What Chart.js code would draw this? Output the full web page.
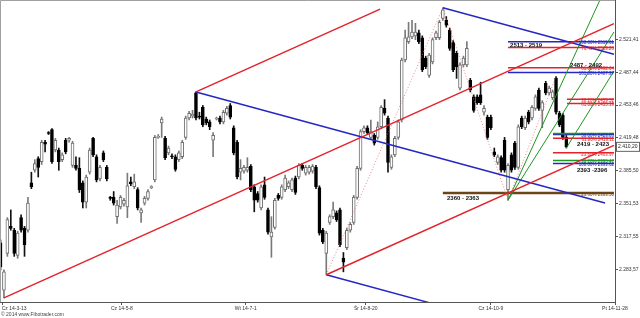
<!DOCTYPE html>
<html>
<head>
<meta charset="utf-8">
<script src="https://cdn.jsdelivr.net/npm/chart.js@4.4.1/dist/chart.umd.min.js"></script>
<style>
  html, body { margin: 0; padding: 0; background: #fff; }
</style>
</head>
<body>
<canvas id="chart" width="640" height="318"></canvas>
<script>
// daily candles (index = session number)
const opens = [2311,2262,2300,2328,2324,2298,2337,2326,2324,2373,2386,2398,2395,2415,2425,2428,2407,2407,2397,2417,
  2417,2391,2391,2388,2373,2353,2384,2419,2400,2377,2404,2389,2358,2358,2338,2348,2351,2348,2374,2369,
  2366,2342,2352,2357,2368,2376,2420,2435,2419,2404,2401,2400,2397,2400,2420,2440,2442,2466,2442,2451,
  2439,2436,2417,2439,2440,2436,2445,2453,2430,2415,2384,2385,2386,2390,2369,2362,2347,2371,2345,2317,
  2327,2360,2358,2366,2369,2366,2378,2379,2391,2383,2384,2385,2389,2368,2324,2300,2332,2338,2342,2345,
  2295,2306,2324,2332,2358,2388,2426,2430,2420,2422,2420,2431,2450,2440,2389,2402,2420,2438,2500,2519,
  2524,2525,2528,2523,2502,2484,2498,2523,2523,2543,2541,2531,2518,2507,2471,2495,2495,2479,2462,2462,
  2464,2446,2441,2441,2405,2394,2399,2417,2366,2402,2414,2389,2440,2430,2446,2440,2450,2469,2448,2476,
  2466,2461,2481,2445,2443,2420];
const highs = [2314,2283,2337,2345,2326,2323,2340,2328,2358,2384,2397,2400,2417,2417,2426,2429,2419,2409,2404,2419,
  2420,2416,2400,2399,2375,2381,2409,2420,2402,2391,2406,2391,2359,2364,2355,2360,2357,2383,2379,2382,
  2368,2347,2359,2366,2370,2422,2423,2441,2421,2411,2403,2402,2406,2417,2442,2447,2448,2467,2446,2453,
  2441,2438,2425,2441,2442,2448,2452,2455,2432,2417,2397,2391,2399,2392,2371,2364,2371,2379,2347,2338,
  2357,2362,2371,2381,2375,2378,2380,2393,2393,2391,2391,2392,2391,2370,2326,2323,2340,2353,2344,2347,
  2301,2326,2332,2360,2390,2428,2432,2432,2438,2424,2436,2453,2459,2442,2402,2421,2438,2502,2531,2539,
  2541,2538,2531,2525,2504,2507,2523,2530,2541,2554,2545,2533,2520,2509,2497,2504,2519,2481,2464,2464,
  2477,2453,2443,2443,2409,2402,2401,2420,2393,2404,2416,2433,2442,2442,2448,2453,2464,2471,2458,2478,
  2473,2469,2483,2447,2445,2422];
const lows = [2283,2254,2297,2324,2297,2295,2322,2297,2322,2367,2384,2379,2392,2405,2423,2393,2405,2386,2395,2403,
  2415,2389,2386,2363,2347,2347,2382,2400,2374,2375,2395,2375,2355,2350,2331,2346,2349,2337,2370,2367,
  2345,2332,2350,2355,2367,2374,2419,2420,2397,2402,2398,2385,2395,2398,2418,2438,2440,2438,2439,2431,
  2433,2428,2400,2438,2434,2434,2443,2439,2402,2377,2376,2383,2384,2364,2343,2353,2345,2356,2320,2296,
  2325,2355,2356,2364,2367,2364,2361,2377,2386,2381,2382,2383,2367,2319,2310,2278,2330,2336,2333,2307,
  2281,2304,2322,2330,2356,2386,2424,2423,2418,2412,2418,2429,2443,2384,2387,2400,2418,2436,2498,2517,
  2522,2521,2517,2488,2491,2482,2496,2521,2521,2541,2534,2510,2488,2481,2469,2493,2493,2467,2446,2454,
  2454,2443,2418,2428,2400,2392,2384,2384,2355,2384,2387,2387,2429,2428,2434,2438,2448,2448,2430,2464,
  2464,2459,2444,2431,2418,2409];
const closes = [2286,2281,2335,2326,2300,2321,2324,2309,2352,2369,2393,2389,2415,2413,2424,2395,2417,2395,2402,2405,
  2419,2414,2388,2366,2353,2379,2407,2402,2376,2389,2397,2377,2357,2352,2350,2358,2355,2370,2372,2374,
  2347,2345,2357,2364,2369,2420,2421,2439,2399,2409,2400,2387,2404,2415,2440,2445,2444,2440,2441,2433,
  2435,2431,2422,2440,2436,2446,2450,2441,2404,2379,2388,2389,2389,2366,2355,2355,2369,2358,2322,2322,
  2355,2357,2369,2378,2373,2376,2363,2391,2388,2389,2389,2390,2369,2321,2312,2321,2338,2345,2335,2309,
  2291,2324,2330,2358,2388,2426,2430,2425,2426,2414,2431,2451,2445,2394,2400,2419,2436,2500,2523,2524,
  2529,2529,2519,2490,2493,2505,2521,2528,2539,2552,2536,2512,2490,2493,2495,2502,2512,2469,2448,2456,
  2456,2450,2420,2430,2402,2400,2386,2386,2391,2386,2389,2431,2431,2440,2436,2451,2462,2450,2456,2466,
  2471,2467,2446,2433,2420,2410.2];

const xTickPos = [0.64, 35.4, 71.5, 106.5, 143.0, 179.2];
const xTickLabels = ['Cz 14-3-13', 'Cz 14-5-8', 'Wt 14-7-1', 'Śr 14-8-20', 'Cz 14-10-9', 'Pt 14-11-28'];
const yTickValues = [2283.57, 2317.55, 2351.53, 2385.50, 2419.48, 2453.46, 2487.44, 2521.41];
const lastPrice = 2410.20;

// pitchfork (red), its blue counter-lines, green fan, zigzag
const redMedian = [{x: 1, y: 2254}, {x: 178.9, y: 2537.6}];
const redUpper = [{x: 57, y: 2467}, {x: 110.7, y: 2552.6}];
const redLower = [{x: 95, y: 2278}, {x: 178.9, y: 2411.7}];
const blueFromTop = [{x: 57, y: 2467}, {x: 176.3, y: 2352.2}];
const blueFromLow = [{x: 95, y: 2278}, {x: 125, y: 2249.1}];
const blueFromPeak = [{x: 129, y: 2554}, {x: 178.9, y: 2506}];
const greenSteep = [{x: 148, y: 2355}, {x: 174.8, y: 2562}];
const greenMid = [{x: 148, y: 2355}, {x: 178.9, y: 2529}];
const greenLast = [{x: 165, y: 2409}, {x: 178.9, y: 2488.6}];
const zigzag = [{x: 95, y: 2278}, {x: 129, y: 2554}, {x: 148, y: 2355}, {x: 162, y: 2483}];

// fibonacci levels
const fibValues = [2519, 2513, 2492, 2487, 2459.5, 2455, 2424, 2423, 2419, 2404, 2396, 2393, 2362.5];
const fibStart = [148, 148, 148, 148, 165.2, 165.2, 161.1, 161.1, 161.1, 161.1, 161.1, 161.1, 129];
const fibKind = ['blue', 'red', 'red', 'blue', 'red', 'red', 'green', 'blue', 'red', 'red', 'green', 'blue', 'brown'];
const fibLabels = ['100.00% 2519.61', '76.40% 2513.26', '61.80% 2492.04', '161.80% 2487.37', '38.20% 2459.52',
  '61.80% 2455.19', '', '50.00% 2423.05', '61.80% 2419.11', '23.60% 2403.97', '38.20% 2395.47',
  '100.00% 2393.62', '23.60% 2363.50'];

const zoneTexts = ['2513 - 2519', '2487 - 2492', '2419 - 2423', '2393 -2396', '2360 - 2363'];
const zoneX = [148.6, 166.1, 168.1, 168.1, 130.2];
const zoneY = [2514.8, 2494.8, 2412.8, 2385.5, 2357];

const FONT = "'Liberation Sans', Arial, sans-serif";
const colors = { red: '#e3232b', blue: '#2626c4', green: '#1f961f', brown: '#6b4518' };

function fmt(v) {
    const [i, d] = v.toFixed(2).split('.');
    return i.replace(/\B(?=(\d{3})+(?!\d))/g, '.') + ',' + d;
}

function seg(points, color, width, dash) {
    return {
        type: 'line', data: points, borderColor: color, borderWidth: width,
        borderDash: dash || [], pointRadius: 0, fill: false, tension: 0, order: 0
    };
}

const idx = opens.map((_, i) => i);
const isUp = idx.map(i => closes[i] >= opens[i]);

const datasets = [
    seg(redMedian, colors.red, 1.5),
    seg(redUpper, colors.red, 1.5),
    seg(redLower, colors.red, 1.5),
    seg(blueFromTop, colors.blue, 1.5),
    seg(blueFromLow, colors.blue, 1.5),
    seg(blueFromPeak, colors.blue, 1.5),
    seg(greenSteep, colors.green, 1),
    seg(greenMid, colors.green, 1),
    seg(greenLast, colors.green, 1),
    seg(zigzag, '#e66a6a', 0.8, [1, 2])
];
fibValues.forEach((v, i) => {
    datasets.push(seg([{x: fibStart[i], y: v}, {x: 178.9, y: v}], colors[fibKind[i]], fibKind[i] === 'brown' ? 2.5 : 1.5));
});
datasets.push({
    type: 'bar', order: 2, grouped: false, barThickness: 3, minBarLength: 1,
    data: idx.map(i => ({x: i, y: [opens[i], closes[i]]})),
    backgroundColor: isUp.map(u => u ? '#ffffff' : '#000000'),
    borderColor: isUp.map(u => u ? '#6e6e6e' : '#000000'),
    borderWidth: 1, borderSkipped: false
});
datasets.push({
    type: 'bar', order: 3, grouped: false, barThickness: 1,
    data: idx.map(i => ({x: i, y: [lows[i], highs[i]]})),
    backgroundColor: isUp.map(u => u ? '#7a7a7a' : '#111111')
});

const overlay = {
    id: 'overlay',
    beforeDraw(chart) {
        const ctx = chart.ctx;
        ctx.save();
        ctx.fillStyle = '#fff';
        ctx.fillRect(0, 0, chart.width, chart.height);
        ctx.restore();
    },
    afterDraw(chart) {
        const {ctx, chartArea: a, scales: {x, y}} = chart;
        ctx.save();
        // top / left frame
        ctx.strokeStyle = '#a0a0a0';
        ctx.lineWidth = 1;
        ctx.beginPath();
        ctx.moveTo(a.left + 0.5, a.bottom);
        ctx.lineTo(a.left + 0.5, a.top + 0.5);
        ctx.lineTo(a.right, a.top + 0.5);
        ctx.stroke();

        // fib level captions
        ctx.font = '4.5px ' + FONT;
        ctx.textAlign = 'right';
        ctx.textBaseline = 'middle';
        fibValues.forEach((v, i) => {
            if (!fibLabels[i]) return;
            ctx.fillStyle = colors[fibKind[i]];
            ctx.fillText(fibLabels[i], a.right - 1, y.getPixelForValue(v) + 1.5);
        });

        // zone captions
        ctx.font = 'bold 6px ' + FONT;
        ctx.textAlign = 'left';
        ctx.fillStyle = '#111';
        zoneTexts.forEach((t, i) => {
            ctx.fillText(t, x.getPixelForValue(zoneX[i]), y.getPixelForValue(zoneY[i]));
        });

        // x axis labels
        ctx.font = '5px ' + FONT;
        ctx.fillStyle = '#333';
        xTickLabels.forEach((t, i) => {
            ctx.textAlign = i === 0 ? 'left' : 'center';
            const px = x.getPixelForValue(xTickPos[i]);
            ctx.fillText(t, i === 0 ? px - 1 : px, a.bottom + 7);
        });

        // last price box
        const py = y.getPixelForValue(lastPrice);
        ctx.fillStyle = '#fff';
        ctx.fillRect(a.right + 1.5, py - 4.5, 23, 9);
        ctx.strokeStyle = '#666';
        ctx.strokeRect(a.right + 1.5, py - 4.5, 23, 9);
        ctx.fillStyle = '#222';
        ctx.textAlign = 'left';
        ctx.fillText(fmt(lastPrice), a.right + 3, py);

        // copyright
        ctx.fillStyle = '#444';
        ctx.fillText('© 2014 www.Fibotrader.com', 1, 315);
        ctx.restore();
    }
};

new Chart(document.getElementById('chart'), {
    type: 'bar',
    data: { datasets },
    plugins: [overlay],
    options: {
        responsive: false,
        animation: false,
        devicePixelRatio: 1,
        layout: { padding: 0 },
        plugins: { legend: { display: false }, tooltip: { enabled: false } },
        scales: {
            x: {
                type: 'linear', min: -0.15, max: 179.2, offset: false,
                grid: { display: true, drawOnChartArea: false, drawTicks: true, tickLength: 3, color: '#555', offset: false },
                border: { display: true, color: '#555' },
                ticks: { display: false },
                afterBuildTicks: s => { s.ticks = xTickPos.map(v => ({value: v})); },
                afterFit: s => { s.height = 16; s.paddingLeft = 0; s.paddingRight = 0; }
            },
            y: {
                type: 'linear', position: 'right', min: 2249.8, max: 2562.05, beginAtZero: false,
                grid: { display: true, drawOnChartArea: false, drawTicks: true, tickLength: 3, color: '#555' },
                border: { display: true, color: '#555' },
                ticks: { font: { size: 5, family: FONT }, color: '#333', padding: 1, autoSkip: false, callback: v => fmt(v) },
                afterBuildTicks: s => { s.ticks = yTickValues.map(v => ({value: v})); },
                afterFit: s => { s.width = 25; s.paddingTop = 0; s.paddingBottom = 0; }
            }
        }
    }
});
</script>
</body>
</html>
